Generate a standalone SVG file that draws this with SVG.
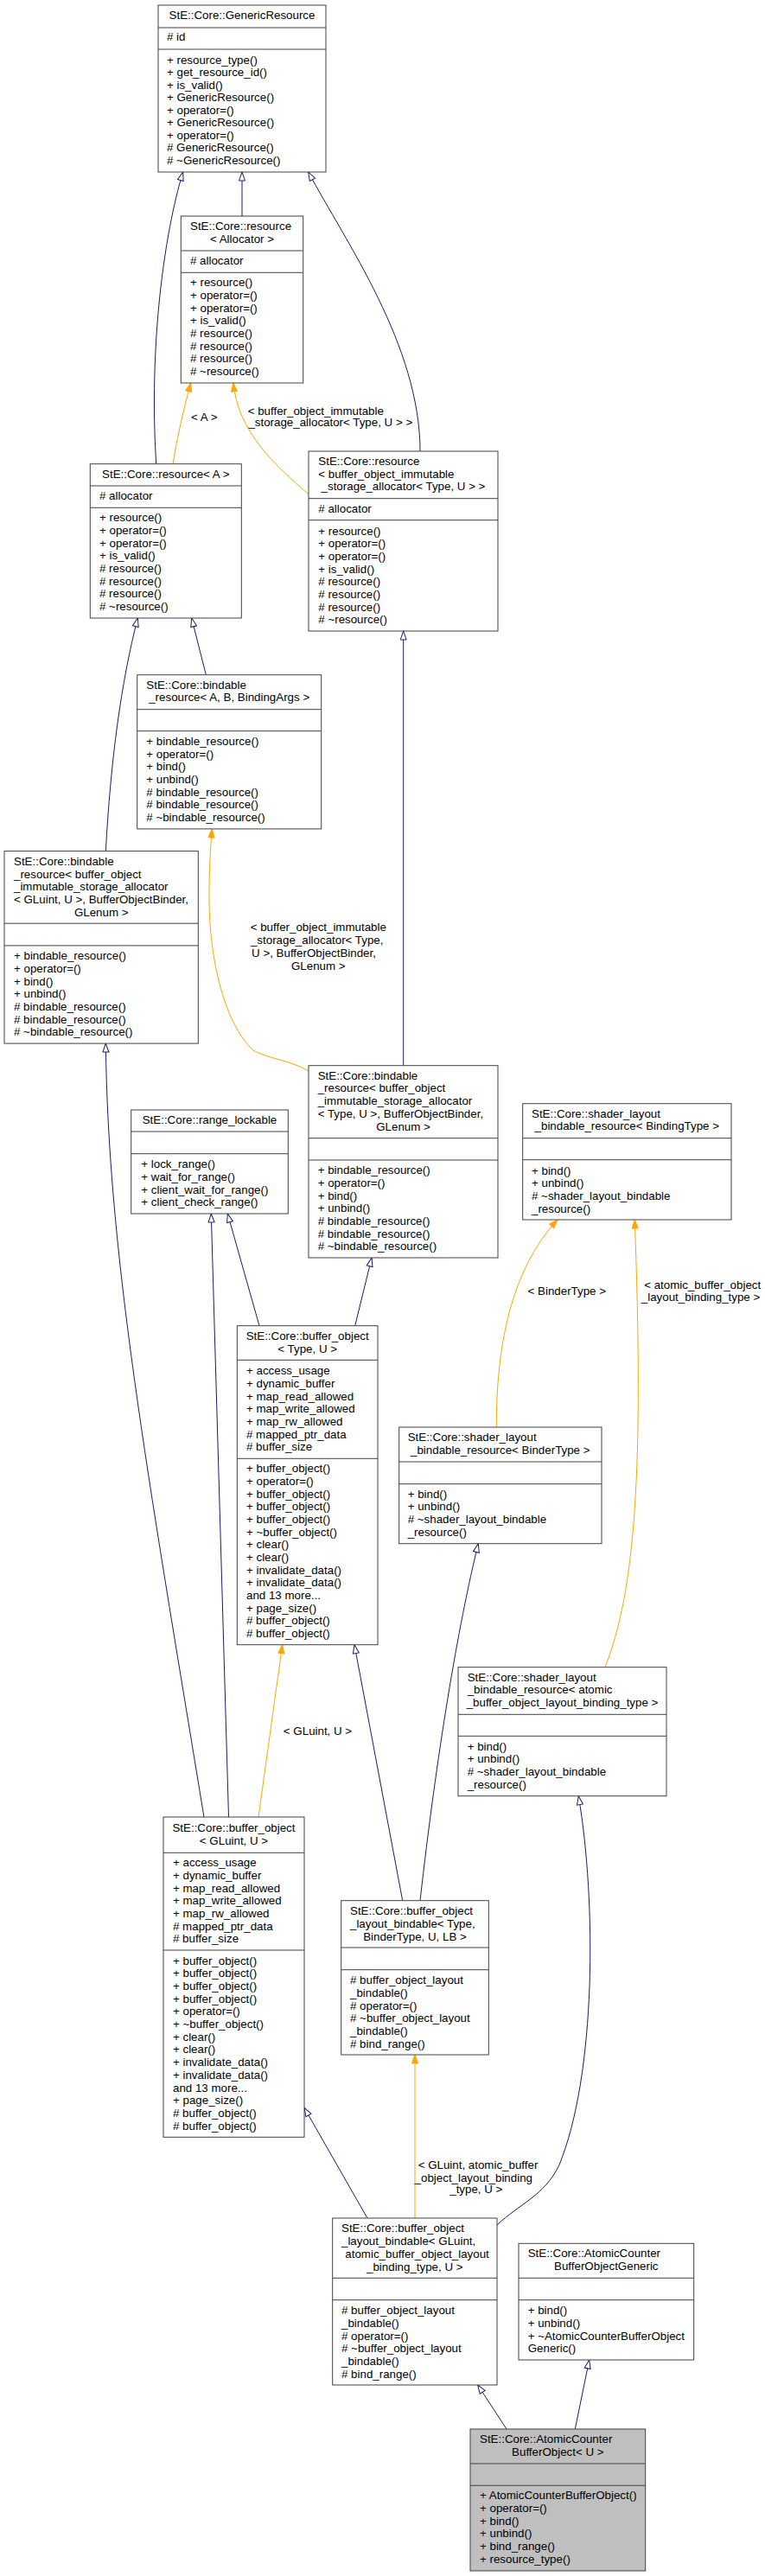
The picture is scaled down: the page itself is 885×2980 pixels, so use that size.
<svg xmlns="http://www.w3.org/2000/svg" width="885" height="2980" viewBox="0 0 885 2980">
<style>
text{font-family:"Liberation Sans",Arial,Helvetica,sans-serif;font-size:13.33px;fill:#000}
.m{text-anchor:middle}
.box{fill:#fff;stroke:#404040;stroke-width:1}
.sep{stroke:#404040;stroke-width:1;fill:none}
.gen{fill:none;stroke:#191970;stroke-width:1;marker-end:url(#ah)}
.tpl{fill:none;stroke:#ffa500;stroke-width:1;marker-end:url(#ao)}
</style>
<defs>
<marker id="ah" markerUnits="userSpaceOnUse" viewBox="-1 -1 12 10" markerWidth="12" markerHeight="10" refX="10" refY="4" orient="auto"><path d="M0,0.5 L10,4 L0,7.5 z" fill="#fff" stroke="#191970" stroke-width="1"/></marker>
<marker id="ao" markerUnits="userSpaceOnUse" viewBox="-1 -1 12 10" markerWidth="12" markerHeight="10" refX="10" refY="4" orient="auto"><path d="M0,0.5 L10,4 L0,7.5 z" fill="#ffa500" stroke="#ffa500" stroke-width="1"/></marker>
</defs>
<rect width="885" height="2980" fill="#fff"/>

<g id="connectors">
<path class="gen" d="M280,250 L280,199"/>
<path class="gen" d="M180.7,536.7 C172,400 190,270 211.7,199"/>
<path class="gen" d="M486,522 C486,400 400,280 356.7,199"/>
<path class="gen" d="M238.3,780.7 L221.7,715"/>
<path class="gen" d="M122.3,984.6 C128,880 140,790 159.3,715"/>
<path class="gen" d="M466.7,1232.7 L466.7,730"/>
<path class="gen" d="M300,1533.7 L263.3,1404"/>
<path class="gen" d="M410.7,1533.7 L430,1455"/>
<path class="gen" d="M236,2102 C170,1700 125,1450 122.3,1207"/>
<path class="gen" d="M264.5,2102 L244.3,1404"/>
<path class="gen" d="M465.7,2198.7 L410,1902.7"/>
<path class="gen" d="M486,2198.7 C505,2030 530,1880 553.3,1785.7"/>
<path class="gen" d="M425,2566 L352,2438.3"/>
<path class="gen" d="M575,2574 C600,2550 630,2540 646.7,2505 C690,2400 690,2200 669.3,2077.7"/>
<path class="gen" d="M586,2810 L552.7,2759"/>
<path class="gen" d="M665.3,2810 L681.7,2730"/>

<path class="tpl" d="M200,536.7 C205,506 212,475 220.7,443"/>
<path class="tpl" d="M357,571.7 C320,540 275,500 270,443"/>
<path class="tpl" d="M357,1239 C335,1226 310,1225 293,1215 C260,1185 242,1110 242,1040 C242,1000 244,975 245.3,958.9"/>
<path class="tpl" d="M299,2102 L326.7,1902.7"/>
<path class="tpl" d="M574.3,1651 C574,1560 590,1470 645,1411"/>
<path class="tpl" d="M700,1928.7 C735,1840 745,1700 734.3,1411"/>
<path class="tpl" d="M480,2566 L480,2377"/>

<text class="m" x="236.3" y="486.8">&lt; A &gt;</text>
<text class="m" x="365.3" y="479.5">&lt; buffer_object_immutable</text>
<text class="m" x="382.3" y="492.8">_storage_allocator&lt; Type, U &gt; &gt;</text>
<text class="m" x="368.3" y="1077.2">&lt; buffer_object_immutable</text>
<text class="m" x="366.7" y="1092.2">_storage_allocator&lt; Type,</text>
<text class="m" x="363" y="1107.2">U &gt;, BufferObjectBinder,</text>
<text class="m" x="368.3" y="1121.5">GLenum &gt;</text>
<text class="m" x="367.5" y="2007.2">&lt; GLuint, U &gt;</text>
<text class="m" x="655.8" y="1498.4">&lt; BinderType &gt;</text>
<text class="m" x="812.7" y="1491">&lt; atomic_buffer_object</text>
<text class="m" x="810.5" y="1504.9">_layout_binding_type &gt;</text>
<text class="m" x="553" y="2508.5">&lt; GLuint, atomic_buffer</text>
<text class="m" x="547.8" y="2523.8">_object_layout_binding</text>
<text class="m" x="550.8" y="2537.2">_type, U &gt;</text>
</g>

<g id="GenericResource">
<rect class="box" x="183" y="6" width="194" height="193"/>
<path class="sep" d="M183,32 H377 M183,57 H377"/>
<text class="m" x="280" y="22">StE::Core::GenericResource</text>
<text x="193" y="47.2"># id</text>
<text x="193" y="73.6">+ resource_type()<tspan x="193" dy="14.5">+ get_resource_id()</tspan><tspan x="193" dy="14.5">+ is_valid()</tspan><tspan x="193" dy="14.5">+ GenericResource()</tspan><tspan x="193" dy="14.5">+ operator=()</tspan><tspan x="193" dy="14.5">+ GenericResource()</tspan><tspan x="193" dy="14.5">+ operator=()</tspan><tspan x="193" dy="14.5"># GenericResource()</tspan><tspan x="193" dy="14.5"># ~GenericResource()</tspan></text>
</g>

<g id="resource_Allocator">
<rect class="box" x="209.3" y="250" width="141.4" height="193"/>
<path class="sep" d="M209.3,290 H350.7 M209.3,315.3 H350.7"/>
<text x="220" y="266.2">StE::Core::resource</text>
<text class="m" x="280" y="281.2">&lt; Allocator &gt;</text>
<text x="220" y="306.2"># allocator</text>
<text x="220" y="331.2">+ resource()<tspan x="220" dy="14.67">+ operator=()</tspan><tspan x="220" dy="14.67">+ operator=()</tspan><tspan x="220" dy="14.67">+ is_valid()</tspan><tspan x="220" dy="14.67"># resource()</tspan><tspan x="220" dy="14.67"># resource()</tspan><tspan x="220" dy="14.67"># resource()</tspan><tspan x="220" dy="14.67"># ~resource()</tspan></text>
</g>

<g id="resource_A">
<rect class="box" x="104.3" y="536.7" width="175" height="178.3"/>
<path class="sep" d="M104.3,562 H279.3 M104.3,587.3 H279.3"/>
<text class="m" x="191.8" y="553.2">StE::Core::resource&lt; A &gt;</text>
<text x="115" y="578"># allocator</text>
<text x="115" y="603.2">+ resource()<tspan x="115" dy="14.67">+ operator=()</tspan><tspan x="115" dy="14.67">+ operator=()</tspan><tspan x="115" dy="14.67">+ is_valid()</tspan><tspan x="115" dy="14.67"># resource()</tspan><tspan x="115" dy="14.67"># resource()</tspan><tspan x="115" dy="14.67"># resource()</tspan><tspan x="115" dy="14.67"># ~resource()</tspan></text>
</g>

<g id="resource_buffer_object_immutable_storage_allocator">
<rect class="box" x="357" y="522" width="219" height="208"/>
<path class="sep" d="M357,576.7 H576 M357,601.7 H576"/>
<text x="368.3" y="537.8">StE::Core::resource</text>
<text x="368.3" y="552.8">&lt; buffer_object_immutable</text>
<text class="m" x="466.5" y="567.2">_storage_allocator&lt; Type, U &gt; &gt;</text>
<text x="368.3" y="593.2"># allocator</text>
<text x="368.3" y="618.5">+ resource()<tspan x="368.3" dy="14.67">+ operator=()</tspan><tspan x="368.3" dy="14.67">+ operator=()</tspan><tspan x="368.3" dy="14.67">+ is_valid()</tspan><tspan x="368.3" dy="14.67"># resource()</tspan><tspan x="368.3" dy="14.67"># resource()</tspan><tspan x="368.3" dy="14.67"># resource()</tspan><tspan x="368.3" dy="14.67"># ~resource()</tspan></text>
</g>

<g id="bindable_resource_A_B_BindingArgs">
<rect class="box" x="158.7" y="780.7" width="213" height="178.2"/>
<path class="sep" d="M158.7,820.7 H371.7 M158.7,845.7 H371.7"/>
<text x="169.3" y="797">StE::Core::bindable</text>
<text class="m" x="265.2" y="811.3">_resource&lt; A, B, BindingArgs &gt;</text>
<text x="169.3" y="862">+ bindable_resource()<tspan x="169.3" dy="14.67">+ operator=()</tspan><tspan x="169.3" dy="14.67">+ bind()</tspan><tspan x="169.3" dy="14.67">+ unbind()</tspan><tspan x="169.3" dy="14.67"># bindable_resource()</tspan><tspan x="169.3" dy="14.67"># bindable_resource()</tspan><tspan x="169.3" dy="14.67"># ~bindable_resource()</tspan></text>
</g>

<g id="bindable_resource_GLuint">
<rect class="box" x="5" y="984.6" width="224.3" height="222.5"/>
<path class="sep" d="M5,1068.2 H229.3 M5,1093.9 H229.3"/>
<text x="16" y="1000.9">StE::Core::bindable<tspan x="16" dy="14.67">_resource&lt; buffer_object</tspan><tspan x="16" dy="14.67">_immutable_storage_allocator</tspan><tspan x="16" dy="14.67">&lt; GLuint, U &gt;, BufferObjectBinder,</tspan></text>
<text class="m" x="117.2" y="1059.7">GLenum &gt;</text>
<text x="16" y="1110.2">+ bindable_resource()<tspan x="16" dy="14.67">+ operator=()</tspan><tspan x="16" dy="14.67">+ bind()</tspan><tspan x="16" dy="14.67">+ unbind()</tspan><tspan x="16" dy="14.67"># bindable_resource()</tspan><tspan x="16" dy="14.67"># bindable_resource()</tspan><tspan x="16" dy="14.67"># ~bindable_resource()</tspan></text>
</g>

<g id="bindable_resource_Type">
<rect class="box" x="357" y="1232.7" width="219" height="222.3"/>
<path class="sep" d="M357,1316.7 H576 M357,1342 H576"/>
<text x="367.7" y="1248.8">StE::Core::bindable<tspan x="367.7" dy="14.67">_resource&lt; buffer_object</tspan><tspan x="367.7" dy="14.67">_immutable_storage_allocator</tspan><tspan x="367.7" dy="14.67">&lt; Type, U &gt;, BufferObjectBinder,</tspan></text>
<text class="m" x="466.5" y="1307.5">GLenum &gt;</text>
<text x="367.7" y="1358.2">+ bindable_resource()<tspan x="367.7" dy="14.67">+ operator=()</tspan><tspan x="367.7" dy="14.67">+ bind()</tspan><tspan x="367.7" dy="14.67">+ unbind()</tspan><tspan x="367.7" dy="14.67"># bindable_resource()</tspan><tspan x="367.7" dy="14.67"># bindable_resource()</tspan><tspan x="367.7" dy="14.67"># ~bindable_resource()</tspan></text>
</g>

<g id="range_lockable">
<rect class="box" x="151.7" y="1284" width="181.6" height="120"/>
<path class="sep" d="M151.7,1309 H333.3 M151.7,1334.7 H333.3"/>
<text class="m" x="242.5" y="1300.2">StE::Core::range_lockable</text>
<text x="163.3" y="1351.2">+ lock_range()<tspan x="163.3" dy="14.67">+ wait_for_range()</tspan><tspan x="163.3" dy="14.67">+ client_wait_for_range()</tspan><tspan x="163.3" dy="14.67">+ client_check_range()</tspan></text>
</g>

<g id="shader_layout_bindable_resource_BindingType">
<rect class="box" x="604.7" y="1276.7" width="241.3" height="134.3"/>
<path class="sep" d="M604.7,1316.7 H846 M604.7,1341.7 H846"/>
<text x="615" y="1293.2">StE::Core::shader_layout</text>
<text class="m" x="725.3" y="1307.2">_bindable_resource&lt; BindingType &gt;</text>
<text x="615" y="1358.5">+ bind()<tspan x="615" dy="14.67">+ unbind()</tspan><tspan x="615" dy="14.67"># ~shader_layout_bindable</tspan><tspan x="615" dy="14.67">_resource()</tspan></text>
</g>

<g id="buffer_object_Type_U">
<rect class="box" x="274.3" y="1533.7" width="162.7" height="369"/>
<path class="sep" d="M274.3,1573.3 H437 M274.3,1687.3 H437"/>
<text class="m" x="355.7" y="1550.2">StE::Core::buffer_object</text>
<text class="m" x="355.7" y="1565.2">&lt; Type, U &gt;</text>
<text x="285" y="1590.2">+ access_usage<tspan x="285" dy="14.67">+ dynamic_buffer</tspan><tspan x="285" dy="14.67">+ map_read_allowed</tspan><tspan x="285" dy="14.67">+ map_write_allowed</tspan><tspan x="285" dy="14.67">+ map_rw_allowed</tspan><tspan x="285" dy="14.67"># mapped_ptr_data</tspan><tspan x="285" dy="14.67"># buffer_size</tspan></text>
<text x="285" y="1703.2">+ buffer_object()<tspan x="285" dy="14.67">+ operator=()</tspan><tspan x="285" dy="14.67">+ buffer_object()</tspan><tspan x="285" dy="14.67">+ buffer_object()</tspan><tspan x="285" dy="14.67">+ buffer_object()</tspan><tspan x="285" dy="14.67">+ ~buffer_object()</tspan><tspan x="285" dy="14.67">+ clear()</tspan><tspan x="285" dy="14.67">+ clear()</tspan><tspan x="285" dy="14.67">+ invalidate_data()</tspan><tspan x="285" dy="14.67">+ invalidate_data()</tspan><tspan x="285" dy="14.67">and 13 more...</tspan><tspan x="285" dy="14.67">+ page_size()</tspan><tspan x="285" dy="14.67"># buffer_object()</tspan><tspan x="285" dy="14.67"># buffer_object()</tspan></text>
</g>

<g id="shader_layout_bindable_resource_BinderType">
<rect class="box" x="461.7" y="1651" width="234.3" height="134.7"/>
<path class="sep" d="M461.7,1691 H696 M461.7,1716.7 H696"/>
<text x="471.7" y="1666.9">StE::Core::shader_layout</text>
<text class="m" x="578.8" y="1682.1">_bindable_resource&lt; BinderType &gt;</text>
<text x="471.7" y="1732.8">+ bind()<tspan x="471.7" dy="14.67">+ unbind()</tspan><tspan x="471.7" dy="14.67"># ~shader_layout_bindable</tspan><tspan x="471.7" dy="14.67">_resource()</tspan></text>
</g>

<g id="shader_layout_bindable_resource_atomic">
<rect class="box" x="530" y="1928.7" width="241" height="149"/>
<path class="sep" d="M530,1983.3 H771 M530,2008.3 H771"/>
<text x="540.7" y="1944.8">StE::Core::shader_layout<tspan x="540.7" dy="14.5">_bindable_resource&lt; atomic</tspan></text>
<text class="m" x="650.5" y="1974.2">_buffer_object_layout_binding_type &gt;</text>
<text x="540.7" y="2024.5">+ bind()<tspan x="540.7" dy="14.67">+ unbind()</tspan><tspan x="540.7" dy="14.67"># ~shader_layout_bindable</tspan><tspan x="540.7" dy="14.67">_resource()</tspan></text>
</g>

<g id="buffer_object_GLuint_U">
<rect class="box" x="189" y="2102" width="163" height="370.3"/>
<path class="sep" d="M189,2143.3 H352 M189,2256 H352"/>
<text class="m" x="270.5" y="2118.8">StE::Core::buffer_object</text>
<text class="m" x="270.5" y="2133.5">&lt; GLuint, U &gt;</text>
<text x="200" y="2159.2">+ access_usage<tspan x="200" dy="14.67">+ dynamic_buffer</tspan><tspan x="200" dy="14.67">+ map_read_allowed</tspan><tspan x="200" dy="14.67">+ map_write_allowed</tspan><tspan x="200" dy="14.67">+ map_rw_allowed</tspan><tspan x="200" dy="14.67"># mapped_ptr_data</tspan><tspan x="200" dy="14.67"># buffer_size</tspan></text>
<text x="200" y="2272.8">+ buffer_object()<tspan x="200" dy="14.67">+ buffer_object()</tspan><tspan x="200" dy="14.67">+ buffer_object()</tspan><tspan x="200" dy="14.67">+ buffer_object()</tspan><tspan x="200" dy="14.67">+ operator=()</tspan><tspan x="200" dy="14.67">+ ~buffer_object()</tspan><tspan x="200" dy="14.67">+ clear()</tspan><tspan x="200" dy="14.67">+ clear()</tspan><tspan x="200" dy="14.67">+ invalidate_data()</tspan><tspan x="200" dy="14.67">+ invalidate_data()</tspan><tspan x="200" dy="14.67">and 13 more...</tspan><tspan x="200" dy="14.67">+ page_size()</tspan><tspan x="200" dy="14.67"># buffer_object()</tspan><tspan x="200" dy="14.67"># buffer_object()</tspan></text>
</g>

<g id="buffer_object_layout_bindable_Type">
<rect class="box" x="394.7" y="2198.7" width="170.6" height="178.3"/>
<path class="sep" d="M394.7,2253 H565.3 M394.7,2278.7 H565.3"/>
<text x="405" y="2215.2">StE::Core::buffer_object<tspan x="405" dy="14.5">_layout_bindable&lt; Type,</tspan></text>
<text class="m" x="480" y="2244.5">BinderType, U, LB &gt;</text>
<text x="405" y="2295.2"># buffer_object_layout<tspan x="405" dy="14.67">_bindable()</tspan><tspan x="405" dy="14.67"># operator=()</tspan><tspan x="405" dy="14.67"># ~buffer_object_layout</tspan><tspan x="405" dy="14.67">_bindable()</tspan><tspan x="405" dy="14.67"># bind_range()</tspan></text>
</g>

<g id="buffer_object_layout_bindable_GLuint">
<rect class="box" x="384.7" y="2566" width="190.3" height="193"/>
<path class="sep" d="M384.7,2635.3 H575 M384.7,2660.7 H575"/>
<text x="395" y="2582.2">StE::Core::buffer_object<tspan x="395" dy="15">_layout_bindable&lt; GLuint,</tspan></text>
<text x="399.3" y="2611.8">atomic_buffer_object_layout</text>
<text class="m" x="479.8" y="2626.5">_binding_type, U &gt;</text>
<text x="395" y="2677.2"># buffer_object_layout<tspan x="395" dy="14.67">_bindable()</tspan><tspan x="395" dy="14.67"># operator=()</tspan><tspan x="395" dy="14.67"># ~buffer_object_layout</tspan><tspan x="395" dy="14.67">_bindable()</tspan><tspan x="395" dy="14.67"># bind_range()</tspan></text>
</g>

<g id="AtomicCounterBufferObjectGeneric">
<rect class="box" x="600" y="2595.3" width="202.7" height="134.7"/>
<path class="sep" d="M600,2635.3 H802.7 M600,2660.7 H802.7"/>
<text x="610.7" y="2611.2">StE::Core::AtomicCounter</text>
<text class="m" x="701.3" y="2626.2">BufferObjectGeneric</text>
<text x="610.7" y="2677.2">+ bind()<tspan x="610.7" dy="14.67">+ unbind()</tspan><tspan x="610.7" dy="14.67">+ ~AtomicCounterBufferObject</tspan><tspan x="610.7" dy="14.67">Generic()</tspan></text>
</g>

<g id="AtomicCounterBufferObject_U">
<rect class="box" x="544" y="2810" width="202.7" height="164" style="fill:#bfbfbf"/>
<path class="sep" d="M544,2850 H746.7 M544,2875.3 H746.7"/>
<text x="555" y="2826.2">StE::Core::AtomicCounter</text>
<text class="m" x="645.3" y="2841.2">BufferObject&lt; U &gt;</text>
<text x="555" y="2891.2">+ AtomicCounterBufferObject()<tspan x="555" dy="14.67">+ operator=()</tspan><tspan x="555" dy="14.67">+ bind()</tspan><tspan x="555" dy="14.67">+ unbind()</tspan><tspan x="555" dy="14.67">+ bind_range()</tspan><tspan x="555" dy="14.67">+ resource_type()</tspan></text>
</g>
</svg>
